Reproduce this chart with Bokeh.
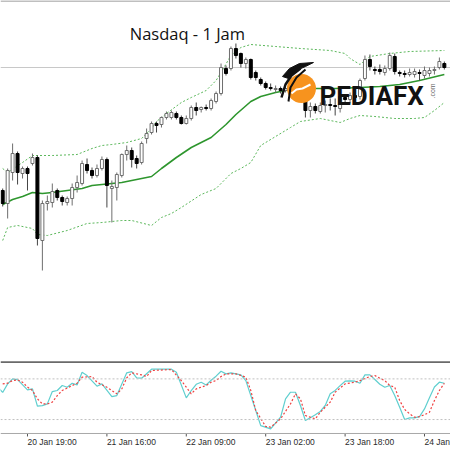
from bokeh.plotting import figure
from bokeh.layouts import column
from bokeh.models import Range1d, Span, Label, ColumnDataSource
from bokeh.core.properties import value
from bokeh.embed import file_html
from bokeh.resources import INLINE
import numpy as np
import math

# ---------------- data ----------------
bar = list(range(90))
open_ = [13110, 13097, 13128, 13147, 13127, 13132, 13137, 13143, 13060, 13097,
         13098, 13110, 13103, 13098, 13102, 13113, 13117, 13136, 13130, 13125,
         13132, 13141, 13112, 13113, 13125, 13146, 13150, 13142, 13138, 13162,
         13168, 13177, 13176, 13183, 13183, 13187, 13183, 13177, 13182, 13193,
         13191, 13193, 13192, 13199, 13207, 13232, 13232, 13252, 13247, 13237,
         13241, 13228, 13221, 13217, 13213, 13211, 13212, 13210, 13212, 13208,
         13210, 13204, 13190, 13194, 13189, 13195, 13196, 13195, 13192, 13203,
         13201, 13205, 13204, 13222, 13241, 13231, 13231, 13228, 13232, 13244,
         13228, 13227, 13226, 13226, 13228, 13225, 13227, 13230, 13233, 13237]
high = [13112, 13132, 13157, 13149, 13134, 13134, 13147, 13145, 13100, 13105,
        13117, 13112, 13105, 13104, 13117, 13125, 13140, 13142, 13133, 13136,
        13144, 13143, 13120, 13128, 13147, 13155, 13153, 13145, 13159, 13172,
        13179, 13179, 13184, 13189, 13190, 13189, 13185, 13185, 13195, 13198,
        13194, 13196, 13202, 13209, 13237, 13235, 13254, 13257, 13248, 13243,
        13242, 13230, 13223, 13219, 13217, 13215, 13214, 13215, 13214, 13212,
        13212, 13206, 13198, 13197, 13198, 13200, 13202, 13202, 13207, 13206,
        13208, 13210, 13222, 13245, 13246, 13234, 13236, 13235, 13248, 13247,
        13230, 13230, 13232, 13232, 13231, 13234, 13233, 13234, 13243, 13239]
low = [13094, 13082, 13120, 13116, 13122, 13110, 13135, 13055, 13030, 13090,
       13093, 13100, 13095, 13095, 13095, 13108, 13115, 13127, 13122, 13123,
       13130, 13093, 13078, 13100, 13123, 13140, 13133, 13132, 13136, 13157,
       13166, 13168, 13173, 13181, 13181, 13181, 13176, 13176, 13180, 13185,
       13188, 13190, 13190, 13197, 13205, 13225, 13230, 13242, 13233, 13232,
       13221, 13220, 13215, 13211, 13210, 13208, 13207, 13208, 13205, 13204,
       13201, 13183, 13183, 13187, 13187, 13188, 13190, 13185, 13188, 13198,
       13197, 13200, 13201, 13220, 13230, 13226, 13226, 13225, 13230, 13226,
       13224, 13223, 13224, 13223, 13220, 13222, 13224, 13226, 13231, 13231]
close = [13097, 13130, 13147, 13128, 13132, 13127, 13143, 13062, 13097, 13099,
         13109, 13103, 13099, 13102, 13113, 13118, 13137, 13130, 13125, 13132,
         13141, 13115, 13114, 13126, 13146, 13150, 13141, 13137, 13157, 13167,
         13177, 13175, 13183, 13187, 13188, 13183, 13177, 13182, 13193, 13190,
         13193, 13192, 13200, 13207, 13233, 13227, 13252, 13245, 13237, 13241,
         13223, 13223, 13217, 13213, 13212, 13212, 13210, 13212, 13208, 13210,
         13204, 13190, 13194, 13190, 13195, 13196, 13195, 13194, 13204, 13201,
         13205, 13203, 13220, 13241, 13234, 13230, 13229, 13232, 13245, 13229,
         13227, 13226, 13228, 13229, 13227, 13230, 13230, 13231, 13239, 13233]

# Bollinger bands (bar index, price)
upper_bar = [0, 1, 4, 6, 10, 15, 18, 20, 22, 25, 28, 30, 31, 33, 36, 38, 41, 43, 44,
             46, 48, 50, 55, 60, 66, 69, 70, 72, 73, 74, 78, 82, 89]
upper_val = [13132, 13128, 13138, 13145, 13145, 13146, 13152, 13155, 13156, 13158,
             13162, 13172, 13179, 13187, 13198, 13203, 13210, 13220, 13228, 13245,
             13253, 13256, 13254, 13252, 13250, 13247, 13242, 13236, 13240, 13244,
             13247, 13249, 13250]
middle_bar = [0, 2, 4, 6, 8, 10, 13, 16, 18, 20, 24, 26, 30, 32, 35, 38, 42, 45, 47,
              50, 52, 55, 58, 62, 67, 72, 76, 80, 84, 89]
middle_val = [13096, 13101, 13104, 13108, 13107, 13108, 13110, 13112, 13115, 13116,
              13118, 13120, 13124, 13132, 13143, 13153, 13163, 13176, 13186, 13199,
              13204, 13208, 13211, 13212, 13212, 13213, 13214, 13216, 13220, 13226]
lower_bar = [0, 1, 3, 6, 7, 9, 13, 17, 20, 24, 26, 30, 32, 34, 36, 40, 43, 46, 48,
             50, 52, 55, 58, 60, 64, 68, 70, 72, 75, 79, 83, 85, 87, 89]
lower_val = [13060, 13073, 13075, 13072, 13066, 13065, 13070, 13077, 13078, 13080,
             13080, 13075, 13083, 13087, 13093, 13106, 13112, 13127, 13132, 13138,
             13155, 13164, 13173, 13179, 13182, 13178, 13182, 13185, 13184, 13182,
             13182, 13183, 13190, 13198]
price_line = 13233

# Stochastic oscillator (bar index, value)
k_bar = [-1, 0, 1, 2, 3, 5, 6, 7, 8, 9, 10, 11, 12, 13, 14, 15, 16, 17, 19, 20, 22, 23,
         25, 26, 27, 28, 30, 34, 35, 37, 38, 39, 40, 41, 42, 43, 44, 45, 46, 47, 48, 49,
         51, 52, 54, 56, 57, 58, 59, 60, 61, 62, 63, 64, 65, 66, 67, 68, 69, 70, 71, 72,
         73, 74, 75, 76, 77, 78, 79, 80, 81, 82, 83, 84, 85, 86, 87, 88, 89]
k_val = [68, 60, 72.6, 80, 79, 63.8, 65.2, 39.7, 40.5, 43.1, 61.3, 62.8, 70.2, 67.7,
         73.6, 71.1, 89.8, 84.9, 69.2, 72.6, 53.9, 55.4, 88.9, 90.8, 81.5, 81, 94.3,
         94.3, 89.8, 52, 62.8, 72, 75, 71, 78, 84, 91.3, 87.4, 88.9, 87.5, 86, 77.5,
         33.3, 11.1, 6.2, 23.4, 50.5, 60.3, 60.3, 40.7, 18.5, 22.5, 27, 32, 40.7, 57.9,
         63, 70, 76.6, 77, 76.6, 73.6, 85.9, 85.9, 79, 72, 67.7, 70.2, 55.4, 38, 20,
         22.5, 22.5, 24.4, 35.7, 52, 68, 75.1, 73.6]
d_bar = [0, 1, 2, 3, 4, 5, 6, 7, 8, 9, 10, 11, 12, 14, 15, 16, 18, 19, 21, 23, 24, 25,
         26, 28, 29, 30, 34, 36, 38, 39, 41, 42, 43, 44, 45, 47, 48, 49, 50, 51, 53, 54,
         56, 58, 59, 60, 61, 63, 64, 66, 67, 69, 71, 72, 74, 75, 76, 77, 78, 79, 80, 81,
         82, 83, 84, 85, 86, 87, 88, 89]
d_val = [72.6, 73.6, 77.5, 78.5, 75.1, 68, 62.8, 50.5, 43.1, 43, 45.6, 55.4, 62.8, 70.2,
         73.6, 82.5, 83.4, 75.1, 67.7, 57.9, 65.2, 81.5, 88.9, 85.9, 83.4, 92.3, 93.8,
         77.5, 57.9, 65.2, 70.2, 75, 77.5, 83.4, 87.4, 87.4, 85, 82.5, 62.8, 33.3, 9.7,
         8.7, 21, 43.1, 57.9, 50.5, 25.9, 21, 30.8, 45.6, 60.3, 72.6, 75.1, 77.5, 83.4,
         84.9, 81, 77.5, 70.2, 67.7, 48, 35, 28.4, 23.4, 24.4, 27, 30.8, 48, 62.8, 73.6]
stoch_levels = [80, 20]

tick_bars = [5, 21, 37, 53, 69, 85]
tick_labels = ["20 Jan 19:00", "21 Jan 16:00", "22 Jan 09:00",
               "23 Jan 02:00", "23 Jan 18:00", "24 Jan"]
title_text = "Nasdaq - 1 Jam"

# ---------------- figures ----------------
W = 450
xr = Range1d(-0.44, 90.24)

p1 = figure(width=W, height=363, x_range=xr, y_range=Range1d(12937, 13300),
            output_backend="svg", toolbar_location=None,
            x_axis_location=None, y_axis_location=None, min_border=0,
            outline_line_color=None, background_fill_color="white",
            border_fill_color="white")
p1.grid.visible = False

p1.add_layout(Span(location=price_line, dimension="width", line_color="#c8c8c8",
                   line_width=1, level="underlay"))
p1.add_layout(Span(location=13299.5, dimension="width", line_color="#808080",
                   line_width=1))
p1.add_layout(Span(location=12938.2, dimension="width", line_color="#6a6a6a",
                   line_width=2.2))

# bands
p1.line(upper_bar, upper_val, line_color="#5cb85c", line_dash="2 2", line_width=1)
p1.line(lower_bar, lower_val, line_color="#5cb85c", line_dash="2 2", line_width=1)
p1.line(middle_bar, middle_val, line_color="#2e962e", line_width=1.6)

# candles
o = np.array(open_, dtype=float)
c = np.array(close, dtype=float)
up = c >= o
src = ColumnDataSource(dict(
    x=bar, high=high, low=low,
    top=np.maximum(o, c), bottom=np.minimum(o, c),
    fill=np.where(up, "#ffffff", "#000000"),
    line=np.where(up, "#6e6e6e", "#000000"),
    wick=np.where(up, "#6e6e6e", "#444444"),
))
p1.segment(x0="x", y0="low", x1="x", y1="high", source=src, line_color="wick",
           line_width=1)
p1.vbar(x="x", width=0.6, top="top", bottom="bottom", source=src,
        fill_color="fill", line_color="line", line_width=1)

# title
p1.add_layout(Label(x=25.6, y=13267, text=title_text, text_font="Open Sans",
                    text_font_size="16.5px", text_color="#111111",
                    text_baseline="alphabetic"))

# watermark logo (decoration)
def X(xr_):
    return (xr_ - 2.2) / 4.9625

def Y(yr_):
    return 13300 - yr_

p1.ellipse(x=X(301), y=Y(88), width=29 / 4.9625, height=29,
           fill_color="#f7931e", line_color=None)
p1.line([X(x_) for x_ in (291, 296, 302, 310)], [Y(y_) for y_ in (93, 89, 88, 84)],
        line_color="white", line_width=2)
p1.patch([X(x_) for x_ in (282, 289, 299, 313, 305, 296, 288)],
         [Y(y_) for y_ in (76, 68, 63, 62, 66, 70, 78)],
         fill_color="#111111", line_color="#111111")
p1.line([X(x_) for x_ in (300, 291, 285, 281)], [Y(y_) for y_ in (68, 75, 84, 97)],
        line_color="#111111", line_width=2.5)
p1.line([X(x_) for x_ in (305, 296, 290, 288)], [Y(y_) for y_ in (69, 77, 87, 101)],
        line_color="#111111", line_width=2)
p1.add_layout(Label(x=X(319), y=Y(95), text="PEDIAFX", text_font="Roboto",
                    text_font_style="bold", text_font_size="26px",
                    text_color="#111111", text_baseline="alphabetic"))
p1.add_layout(Label(x=X(432), y=Y(98), text=".com", text_font="Liberation Sans",
                    text_font_size="7px", text_color="#666666", angle=math.pi / 2,
                    text_baseline="middle"))

# stochastic panel: the frame also holds the time scale strip below the oscillator
p2 = figure(width=W, height=87, x_range=xr, y_range=Range1d(-25.7, 102.7),
            output_backend="svg", toolbar_location=None,
            x_axis_location=None, y_axis_location=None,
            min_border=0, outline_line_color=None,
            background_fill_color="white", border_fill_color="white")
p2.grid.visible = False
for lv in stoch_levels:
    p2.add_layout(Span(location=lv, dimension="width", line_color="#c0c0c0",
                       line_dash="2 2", line_width=1))
p2.line(k_bar, k_val, line_color="#5fcfcf", line_width=1.2)
p2.line(d_bar, d_val, line_color="#f04040", line_dash="2 2", line_width=1.2)

# time scale: base line, tick marks and left-aligned labels
p2.add_layout(Span(location=-0.6, dimension="width", line_color="#a8a8a8",
                   line_width=1))
p2.segment(x0=tick_bars, y0=[-0.6] * len(tick_bars), x1=tick_bars,
           y1=[-5.0] * len(tick_bars), line_color="#555555", line_width=1)
p2.text(x=tick_bars, y=[-6.5] * len(tick_bars), text=tick_labels,
        text_font=value("Liberation Sans"), text_font_size=value("8.5px"),
        text_color="#2a2a2a", text_align="left", text_baseline="top")

layout = column(p1, p2)
open("out.html", "w").write(file_html(layout, INLINE))
